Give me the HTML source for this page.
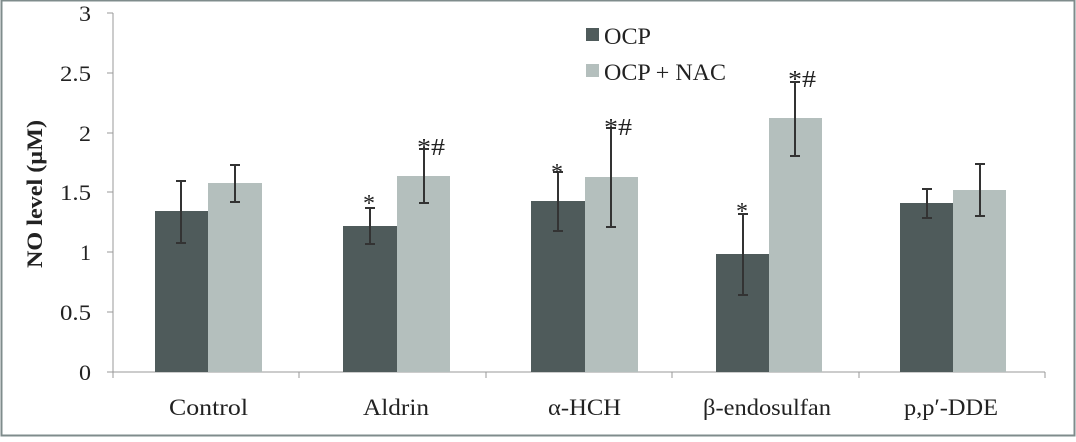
<!DOCTYPE html><html><head><style>body{margin:0;background:#fff}svg{display:block}text{font-family:"Liberation Serif",serif;fill:#222}</style></head><body>
<svg width="1076" height="442" viewBox="0 0 1076 442">
<rect x="1.5" y="0.5" width="1073" height="435" fill="#fff" stroke="#7f8c8c" stroke-width="2"/>
<g stroke="#999" stroke-width="1">
<line x1="113" y1="13" x2="113" y2="378"/>
<line x1="107" y1="372" x2="1045" y2="372"/>
<line x1="107" y1="13" x2="113" y2="13"/><line x1="107" y1="73" x2="113" y2="73"/><line x1="107" y1="133" x2="113" y2="133"/><line x1="107" y1="192" x2="113" y2="192"/><line x1="107" y1="252" x2="113" y2="252"/><line x1="107" y1="312" x2="113" y2="312"/>
<line x1="299" y1="372" x2="299" y2="378"/><line x1="486" y1="372" x2="486" y2="378"/><line x1="672" y1="372" x2="672" y2="378"/><line x1="859" y1="372" x2="859" y2="378"/><line x1="1045" y1="372" x2="1045" y2="378"/>
</g>
<g font-size="22">
<text x="79" y="21" textLength="12" lengthAdjust="spacingAndGlyphs">3</text>
<text x="60" y="81" textLength="31" lengthAdjust="spacingAndGlyphs">2.5</text>
<text x="79" y="141" textLength="12" lengthAdjust="spacingAndGlyphs">2</text>
<text x="60" y="200" textLength="31" lengthAdjust="spacingAndGlyphs">1.5</text>
<text x="80" y="260" textLength="11" lengthAdjust="spacingAndGlyphs">1</text>
<text x="60" y="320" textLength="31" lengthAdjust="spacingAndGlyphs">0.5</text>
<text x="79" y="380" textLength="12" lengthAdjust="spacingAndGlyphs">0</text>
</g>
<text transform="translate(42,268) rotate(-90)" font-size="22" font-weight="bold" textLength="148" lengthAdjust="spacingAndGlyphs">NO level (µM)</text>
<g font-size="23">
<text x="169" y="415" textLength="79" lengthAdjust="spacingAndGlyphs">Control</text>
<text x="363" y="415" textLength="66" lengthAdjust="spacingAndGlyphs">Aldrin</text>
<text x="548" y="415" textLength="73" lengthAdjust="spacingAndGlyphs">α-HCH</text>
<text x="703" y="415" textLength="128" lengthAdjust="spacingAndGlyphs">β-endosulfan</text>
<text x="904" y="415" textLength="94" lengthAdjust="spacingAndGlyphs">p,p′-DDE</text>
</g>
<g fill="#4f5b5b">
<rect x="155" y="211" width="53" height="161"/><rect x="343" y="226" width="54" height="146"/><rect x="531" y="201" width="54" height="171"/><rect x="716" y="254" width="53" height="118"/><rect x="900" y="203" width="53" height="169"/>
</g>
<g fill="#b4bfbd">
<rect x="208" y="183" width="54" height="189"/><rect x="397" y="176" width="53" height="196"/><rect x="585" y="177" width="53" height="195"/><rect x="769" y="118" width="53" height="254"/><rect x="953" y="190" width="53" height="182"/>
</g>
<g stroke="#333" stroke-width="2" fill="none">
<path d="M181 181V243M176 181h10M176 243h10"/>
<path d="M235 165V202M230 165h10M230 202h10"/>
<path d="M370 208V244M365 208h10M365 244h10"/>
<path d="M424 149V203M419 149h10M419 203h10"/>
<path d="M558 172V231M553 172h10M553 231h10"/>
<path d="M611 128V227M606 128h10M606 227h10"/>
<path d="M743 214V295M738 214h10M738 295h10"/>
<path d="M795 82V156M790 82h10M790 156h10"/>
<path d="M927 189V218M922 189h10M922 218h10"/>
<path d="M980 164V216M975 164h10M975 216h10"/>
</g>
<g font-size="24">
<text x="363" y="211">*</text><text x="417" y="155" textLength="28" lengthAdjust="spacingAndGlyphs">*#</text><text x="551" y="180">*</text><text x="604" y="135" textLength="28" lengthAdjust="spacingAndGlyphs">*#</text><text x="736" y="219">*</text><text x="788" y="87" textLength="28" lengthAdjust="spacingAndGlyphs">*#</text>
</g>
<rect x="586" y="28" width="13" height="13" fill="#4f5b5b"/><text x="604" y="44" font-size="23" textLength="47" lengthAdjust="spacingAndGlyphs">OCP</text>
<rect x="586" y="64" width="13" height="13" fill="#b4bfbd"/><text x="604" y="80" font-size="23" textLength="122" lengthAdjust="spacingAndGlyphs">OCP + NAC</text>
</svg></body></html>
